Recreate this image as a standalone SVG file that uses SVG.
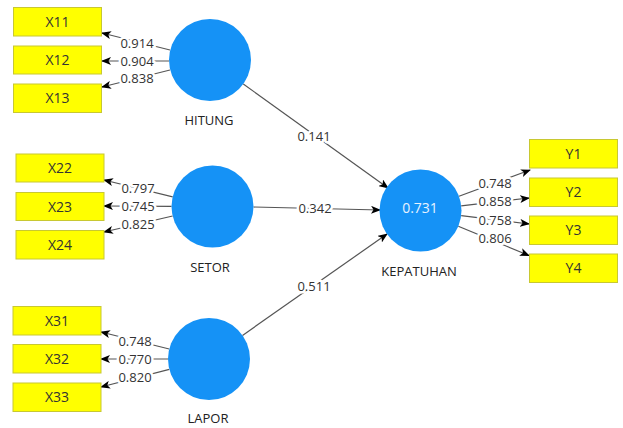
<svg xmlns="http://www.w3.org/2000/svg" width="623" height="428" viewBox="0 0 623 428">
<style>
.lv{fill:#1592F6}
.mv{fill:#FFFF00;stroke:#C8C832;stroke-width:1}
.mt{font-family:"Open Sans","Liberation Sans",sans-serif;font-size:14px;fill:#333;text-anchor:middle}
.nt{font-family:"Open Sans","Liberation Sans",sans-serif;font-size:13px;fill:#222;text-anchor:middle}
.rt{font-family:"Open Sans","Liberation Sans",sans-serif;font-size:14px;fill:#E8F2FF;text-anchor:middle}
.ln{stroke:#555;stroke-width:1.2;fill:none;marker-end:url(#ah)}
.cf{font-family:"Open Sans","Liberation Sans",sans-serif;font-size:13px;fill:#333;text-anchor:middle;stroke:#fff;stroke-width:5;paint-order:stroke;stroke-linejoin:round}
</style>
<defs>
<marker id="ah" markerWidth="10" markerHeight="8" refX="9" refY="4" orient="auto" markerUnits="userSpaceOnUse">
<path d="M0,0 L10,4 L0,8 L2.5,4 Z" fill="#000"/>
</marker>
</defs>
<rect width="623" height="428" fill="#fff"/>
<g id="connectors">
<line class="ln" x1="170" y1="50" x2="102" y2="33"/>
<line class="ln" x1="169" y1="61" x2="102" y2="61"/>
<line class="ln" x1="170" y1="70" x2="102" y2="87"/>
<line class="ln" x1="172.7" y1="196.8" x2="104" y2="180"/>
<line class="ln" x1="171.5" y1="206.4" x2="104" y2="206"/>
<line class="ln" x1="172.6" y1="216" x2="104" y2="232"/>
<line class="ln" x1="169.2" y1="349" x2="101" y2="332"/>
<line class="ln" x1="168" y1="359" x2="101" y2="359"/>
<line class="ln" x1="169.3" y1="369.3" x2="101" y2="387"/>
<line class="ln" x1="459" y1="196.3" x2="530" y2="170"/>
<line class="ln" x1="461.2" y1="205.8" x2="529" y2="198"/>
<line class="ln" x1="461.2" y1="215.6" x2="529" y2="224"/>
<line class="ln" x1="458.3" y1="226.2" x2="529" y2="255.5"/>
<line class="ln" x1="243.3" y1="84" x2="388" y2="188"/>
<line class="ln" x1="253.5" y1="207" x2="380" y2="210"/>
<line class="ln" x1="242.5" y1="335.4" x2="387" y2="234"/>
<text class="cf" x="137" y="47.5">0.914</text>
<text class="cf" x="137" y="65.5">0.904</text>
<text class="cf" x="137" y="82.5">0.838</text>
<text class="cf" x="138" y="192.5">0.797</text>
<text class="cf" x="138" y="211">0.745</text>
<text class="cf" x="138" y="228.5">0.825</text>
<text class="cf" x="135" y="346">0.748</text>
<text class="cf" x="135" y="364">0.770</text>
<text class="cf" x="135" y="381.5">0.820</text>
<text class="cf" x="495" y="188">0.748</text>
<text class="cf" x="495" y="206">0.858</text>
<text class="cf" x="495" y="224.5">0.758</text>
<text class="cf" x="495" y="243">0.806</text>
<text class="cf" x="314" y="140.5">0.141</text>
<text class="cf" x="315" y="212.5">0.342</text>
<text class="cf" x="314" y="290.5">0.511</text>
</g>
<g id="HITUNG"><circle class="lv" cx="210" cy="60" r="41"/><text class="nt" x="209" y="125">HITUNG</text></g>
<g id="SETOR"><circle class="lv" cx="212.5" cy="206.5" r="41"/><text class="nt" x="210" y="271.5">SETOR</text></g>
<g id="LAPOR"><circle class="lv" cx="209" cy="359" r="41"/><text class="nt" x="208" y="423">LAPOR</text></g>
<g id="KEPATUHAN"><circle class="lv" cx="420.5" cy="210.5" r="41"/><text class="rt" x="420" y="213">0.731</text><text class="nt" x="419" y="276">KEPATUHAN</text></g>
<g id="X11"><rect class="mv" x="13.5" y="7.5" width="88" height="28.5"/><text class="mt" x="57.5" y="26.5">X11</text></g>
<g id="X12"><rect class="mv" x="13.5" y="46" width="88" height="28"/><text class="mt" x="57.5" y="65">X12</text></g>
<g id="X13"><rect class="mv" x="13.5" y="84" width="88" height="28.5"/><text class="mt" x="57.5" y="103">X13</text></g>
<g id="X22"><rect class="mv" x="16" y="154" width="88" height="28"/><text class="mt" x="60" y="173">X22</text></g>
<g id="X23"><rect class="mv" x="16" y="192.5" width="88" height="28"/><text class="mt" x="60" y="211.5">X23</text></g>
<g id="X24"><rect class="mv" x="16" y="230.5" width="88" height="28.5"/><text class="mt" x="60" y="249.5">X24</text></g>
<g id="X31"><rect class="mv" x="13" y="306.5" width="88" height="28.5"/><text class="mt" x="57" y="325.5">X31</text></g>
<g id="X32"><rect class="mv" x="13" y="344.5" width="88" height="28.5"/><text class="mt" x="57" y="363.5">X32</text></g>
<g id="X33"><rect class="mv" x="13" y="383" width="88" height="28.5"/><text class="mt" x="57" y="402">X33</text></g>
<g id="Y1"><rect class="mv" x="529.5" y="139.5" width="88" height="28.5"/><text class="mt" x="573.5" y="158.5">Y1</text></g>
<g id="Y2"><rect class="mv" x="529.5" y="178" width="88" height="28.5"/><text class="mt" x="573.5" y="197">Y2</text></g>
<g id="Y3"><rect class="mv" x="529.5" y="216" width="88" height="28.5"/><text class="mt" x="573.5" y="235">Y3</text></g>
<g id="Y4"><rect class="mv" x="529.5" y="254" width="88" height="28.5"/><text class="mt" x="573.5" y="273">Y4</text></g>
</svg>
